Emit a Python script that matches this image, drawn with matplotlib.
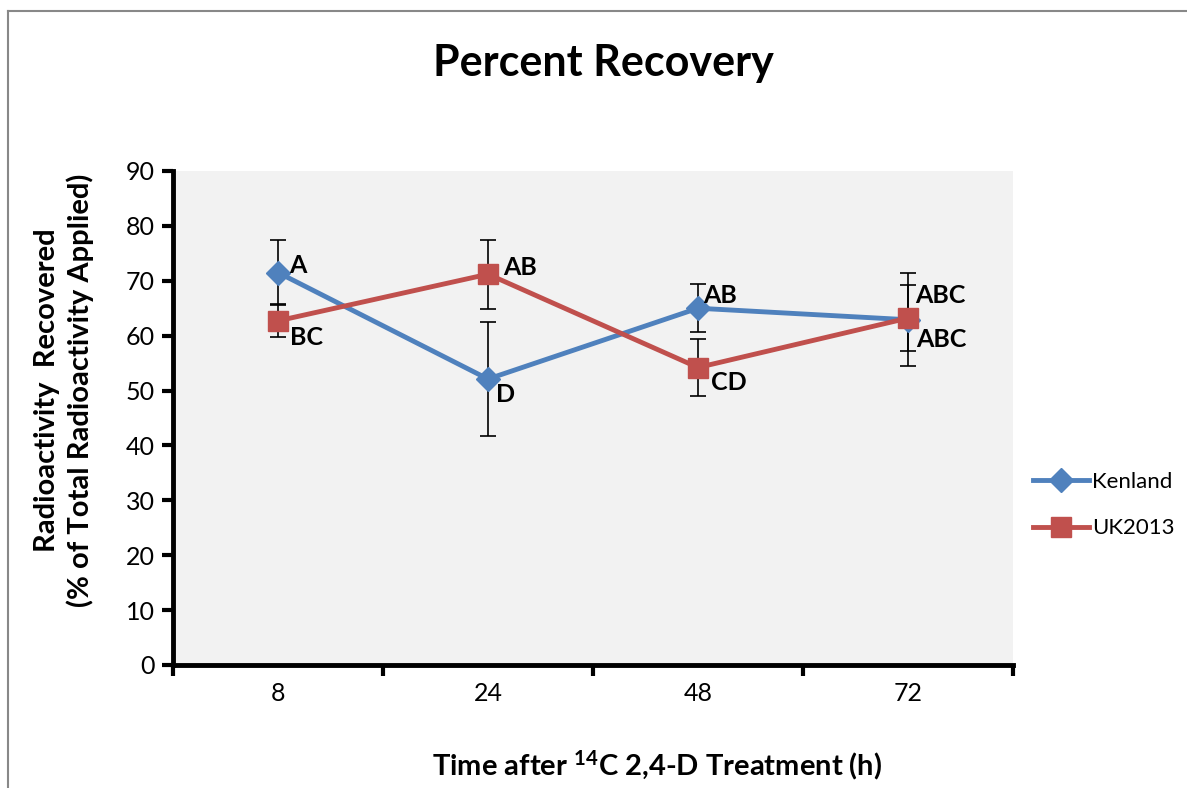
import numpy as np
import matplotlib
matplotlib.use("Agg")
import matplotlib.pyplot as plt
from matplotlib.lines import Line2D

plt.rcParams["font.family"] = ["Lato", "DejaVu Sans"]
plt.rcParams["mathtext.fontset"] = "custom"
plt.rcParams["mathtext.rm"] = "Lato"
plt.rcParams["mathtext.bf"] = "Lato:bold"

BLUE = "#4F81BD"
RED = "#C0504D"
PANEL = "#F2F2F2"

# --- données ---
times = ["8", "24", "48", "72"]
kenland = [71.5, 52.1, 65.0, 62.9]
kenland_err = [6.0, 10.3, 4.4, 8.5]
kenland_letters = ["A", "D", "AB", "ABC"]
uk2013 = [62.7, 71.2, 54.2, 63.2]
uk2013_err = [3.0, 6.3, 5.2, 6.0]
uk2013_letters = ["BC", "AB", "CD", "ABC"]

# décalages des lettres (points)
kenland_offsets = [(8, 5), (6, -11), (4, 9), (6, -14)]
uk2013_offsets = [(9, -12), (11, 5), (9, -11), (5, 16)]

fig = plt.figure(figsize=(11.87, 7.88), dpi=100)
ax = fig.add_axes([173 / 1187, 1 - 665 / 788, (1013 - 173) / 1187, (665 - 171) / 788])
ax.set_facecolor(PANEL)

x = np.arange(len(times))

ax.errorbar(x, kenland, yerr=kenland_err, fmt="none", ecolor="black",
            elinewidth=1.2, capsize=6, capthick=1.2, zorder=2)
ax.errorbar(x, uk2013, yerr=uk2013_err, fmt="none", ecolor="black",
            elinewidth=1.2, capsize=6, capthick=1.2, zorder=2)
ax.plot(x, kenland, color=BLUE, lw=3.5, marker="D", ms=12, label="Kenland", zorder=3)
ax.plot(x, uk2013, color=RED, lw=3.5, marker="s", ms=14, label="UK2013", zorder=4)

for xi, yi, lab, off in zip(x, kenland, kenland_letters, kenland_offsets):
    ax.annotate(lab, (xi, yi), xytext=off, textcoords="offset points",
                ha="left", va="center", fontsize=18, fontweight="bold", zorder=5)
for xi, yi, lab, off in zip(x, uk2013, uk2013_letters, uk2013_offsets):
    ax.annotate(lab, (xi, yi), xytext=off, textcoords="offset points",
                ha="left", va="center", fontsize=18, fontweight="bold", zorder=5)

ax.set_xlim(-0.5, len(times) - 0.5)
ax.set_ylim(0, 90)
ax.set_yticks(np.arange(0, 91, 10))
ax.set_xticks(np.arange(-0.5, len(times), 1.0))
ax.set_xticklabels([])
ax.set_xticks(x, minor=True)
ax.set_xticklabels(times, minor=True)
ax.tick_params(axis="x", which="minor", length=0, pad=12, labelsize=18)
ax.tick_params(axis="x", which="major", length=8, width=3, direction="out")
ax.tick_params(axis="y", length=8, width=3, direction="out", labelsize=18, pad=5)

for s in ["top", "right"]:
    ax.spines[s].set_visible(False)
for s in ["left", "bottom"]:
    ax.spines[s].set_linewidth(3.5)

fig.text(603 / 1187, 1 - 63 / 788, "Percent Recovery", ha="center", va="center",
         fontsize=31, fontweight="bold")
fig.text(64 / 1187, 1 - 390 / 788,
         "Radioactivity  Recovered\n(% of Total Radioactivity Applied)",
         ha="center", va="center", rotation=90, fontsize=21, fontweight="bold",
         linespacing=1.25)
fig.text(657 / 1187, 1 - 765 / 788,
         r"Time after $\mathbf{^{14}}$C 2,4-D Treatment (h)",
         ha="center", va="center", fontsize=21, fontweight="bold")

fig.legend(loc="center left", bbox_to_anchor=(1033 / 1187, 1 - 505 / 788),
           frameon=False, fontsize=16, handlelength=2.5, labelspacing=1.2,
           handletextpad=0.15, borderpad=0, borderaxespad=0)

# cadre gris de la zone graphique
fig.add_artist(Line2D([8 / 1187, 8 / 1187], [1 - 11 / 788, 0], color="#888888", lw=1.5))
fig.add_artist(Line2D([8 / 1187, 1], [1 - 11 / 788, 1 - 11 / 788], color="#888888", lw=1.5))

plt.savefig("out.png", dpi=100)
plt.close()
